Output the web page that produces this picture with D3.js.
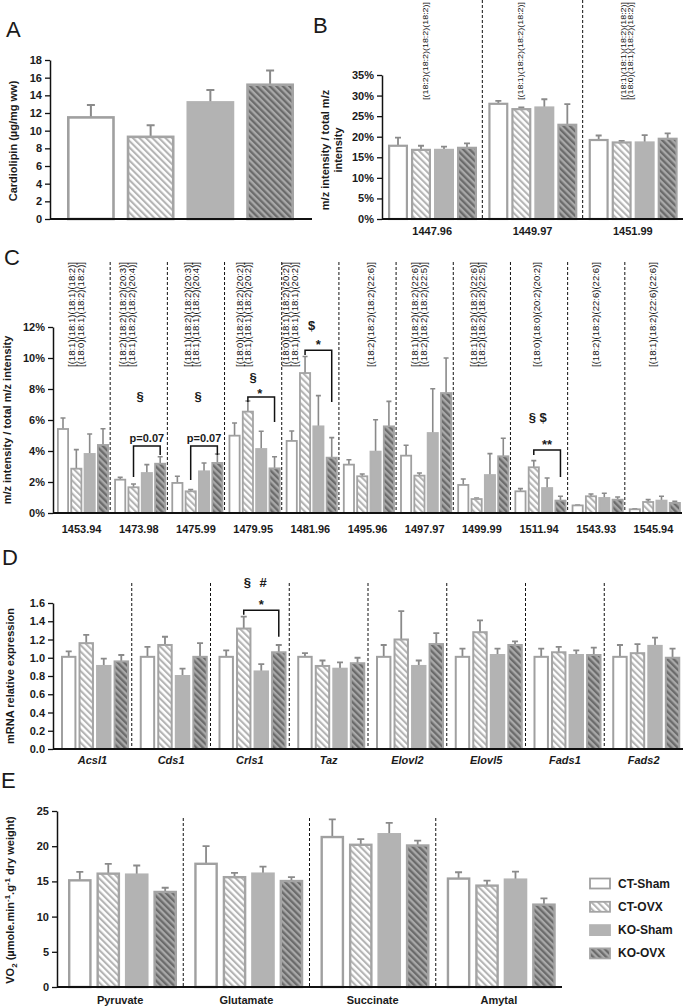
<!DOCTYPE html>
<html>
<head>
<meta charset="utf-8">
<script src="https://cdn.jsdelivr.net/npm/d3@7"></script>
<style>
  body { margin: 0; background: #fff; }
  svg text { font-family: "Liberation Sans", Arial, sans-serif; fill: #1a1a1a; }
</style>
</head>
<body>
<svg id="fig" width="685" height="1007"></svg>
<script>
// ---- data ----
const groups = ["CT-Sham", "CT-OVX", "KO-Sham", "KO-OVX"];

// A: cardiolipin content
const cardiolipin = [11.5, 9.3, 13.2, 15.2];
const cardiolipinErr = [1.4, 1.3, 1.4, 1.6];

// B: tetra-linoleoyl species
const bMasses = ["1447.96", "1449.97", "1451.99"];
const bSpecies = [
  ["[(18:2)(18:2)(18:2)(18:2)]"],
  ["[(18:1)(18:2)(18:2)(18:2)]"],
  ["[(18:1)(18:1)(18:2)(18:2)]", "[(18:0)(18:1)(18:2)(18:2)]"]
];
const bValues = [[17.8, 16.8, 16.8, 17.3], [28.0, 26.7, 27.1, 22.9], [19.2, 18.6, 18.6, 19.5]];
const bErrors = [[2.0, 1.0, 0.8, 1.1], [0.7, 0.4, 2.0, 5.0], [1.1, 0.4, 1.8, 1.3]];

// C: other species
const cMasses = ["1453.94", "1473.98", "1475.99", "1479.95", "1481.96", "1495.96",
                 "1497.97", "1499.99", "1511.94", "1543.93", "1545.94"];
const cSpecies = [
  ["[(18:1)(18:1)(18:1)(18:2)]", "[(18:0)(18:1)(18:2)(18:2)]"],
  ["[(18:2)(18:2)(18:2)(20:3)]", "[(18:1)(18:2)(18:2)(20:4)]"],
  ["[(18:1)(18:2)(18:2)(20:3)]", "[(18:1)(18:1)(18:2)(20:4)]"],
  ["[(18:0)(18:2)(18:2)(20:2)]", "[(18:1)(18:1)(18:2)(20:2)]"],
  ["[(18:0)(18:1)(18:2)(20:2)]", "[(18:1)(18:1)(18:1)(20:2)]"],
  ["[(18:2)(18:2)(18:2)(22:6)]"],
  ["[(18:1)(18:2)(18:2)(22:6)]", "[(18:2)(18:2)(18:2)(22:5)]"],
  ["[(18:1)(18:2)(18:2)(22:6)]", "[(18:2)(18:2)(18:2)(22:5)]"],
  ["[(18:0)(18:0)(20:2)(20:2)]"],
  ["[(18:2)(18:2)(22:6)(22:6)]"],
  ["[(18:1)(18:2)(22:6)(22:6)]"]
];
const cValues = [
  [5.42, 2.86, 3.81, 4.39], [2.15, 1.66, 2.58, 3.18], [1.94, 1.40, 2.69, 3.23],
  [4.99, 6.54, 4.13, 2.88], [4.65, 9.03, 5.59, 3.57], [3.12, 2.37, 3.96, 5.59],
  [3.70, 2.41, 5.16, 7.74], [1.81, 0.90, 2.45, 3.66], [1.40, 2.95, 1.61, 0.80],
  [0.49, 1.08, 0.97, 0.86], [0.24, 0.71, 0.80, 0.65]
];
const cErrors = [
  [0.71, 1.23, 1.29, 1.05], [0.15, 0.21, 0.54, 0.45], [0.43, 0.11, 0.54, 0.58],
  [0.82, 0.69, 1.14, 0.75], [0.64, 1.07, 1.98, 1.29], [0.32, 0.15, 2.06, 1.61],
  [0.67, 0.17, 2.86, 2.26], [0.38, 0.07, 1.38, 1.16], [0.17, 0.43, 0.65, 0.28],
  [0.03, 0.15, 0.30, 0.17], [0.03, 0.15, 0.28, 0.10]
];
// [mass, from bar, to bar, bracket level, left end, right end] (%)
const cBrackets = [
  ["1473.98", 1, 3, 4.32, 2.32, 3.74],
  ["1475.99", 1, 3, 4.32, 2.13, 3.74],
  ["1479.95", 1, 3, 7.48, 7.16, 5.87],
  ["1481.96", 1, 3, 10.5, 10.2, 7.16],
  ["1511.94", 1, 3, 4.06, 3.74, 2.32]
];
// [mass, text, bar position, baseline value]
const cMarks = [
  ["1473.98", "§", 1.5, 7.2], ["1473.98", "p=0.07", 2, 4.6],
  ["1475.99", "§", 1.55, 7.2], ["1475.99", "p=0.07", 2, 4.6],
  ["1479.95", "§", 1.4, 8.45], ["1479.95", "*", 1.9, 7.45],
  ["1481.96", "$", 1.5, 11.8], ["1481.96", "*", 2, 10.55],
  ["1511.94", "§ $", 1.3, 5.87], ["1511.94", "**", 2, 4.1]
];

// D: mRNA expression
const genes = ["Acsl1", "Cds1", "Crls1", "Taz", "Elovl2", "Elovl5", "Fads1", "Fads2"];
const dValues = [
  [1.01, 1.16, 0.91, 0.96], [1.01, 1.14, 0.80, 1.01], [1.01, 1.32, 0.85, 1.06],
  [1.01, 0.91, 0.88, 0.94], [1.01, 1.20, 0.91, 1.15], [1.01, 1.28, 1.03, 1.14],
  [1.01, 1.06, 1.03, 1.03], [1.01, 1.05, 1.13, 1.00]
];
const dErrors = [
  [0.06, 0.09, 0.08, 0.07], [0.11, 0.09, 0.08, 0.15], [0.07, 0.13, 0.08, 0.08],
  [0.04, 0.06, 0.07, 0.06], [0.13, 0.31, 0.06, 0.12], [0.09, 0.13, 0.07, 0.04],
  [0.09, 0.06, 0.05, 0.08], [0.13, 0.10, 0.09, 0.10]
];
const dBrackets = [["Crls1", 1, 3, 1.52, 1.47, 1.23]];
const dMarks = [["Crls1", "§", 1.2, 1.775], ["Crls1", "#", 2.1, 1.775], ["Crls1", "*", 2, 1.53]];

// E: respiration
const substrates = ["Pyruvate", "Glutamate", "Succinate", "Amytal"];
const eValues = [[15.15, 16.1, 15.96, 13.5], [17.5, 15.6, 16.1, 15.05], [21.3, 20.2, 21.7, 20.1], [15.4, 14.4, 15.25, 11.7]];
const eErrors = [[1.2, 1.4, 1.3, 0.6], [2.5, 0.6, 1.0, 0.55], [2.5, 0.8, 1.6, 0.7], [0.9, 0.7, 1.15, 0.9]];

// ---- styles ----
const FONT = '"Liberation Sans", Arial, sans-serif';
const NARROW = '"Liberation Sans Narrow", "Arial Narrow", "Liberation Sans", sans-serif';
const fills = ["#ffffff", "url(#hatchLight)", "#b3b3b3", "url(#hatchDark)"];
const strokes = ["#a0a0a0", "#a4a4a4", "#b3b3b3", "#a4a4a4"];
const errColor = "#8a8a8a";

const svg = d3.select("#fig");
const defs = svg.append("defs");

function hatch(id, bg, fg, w) {
  const p = defs.append("pattern").attr("id", id)
    .attr("patternUnits", "userSpaceOnUse")
    .attr("width", 4.6).attr("height", 4.6)
    .attr("patternTransform", "rotate(-45)");
  p.append("rect").attr("width", 4.6).attr("height", 4.6).attr("fill", bg);
  p.append("rect").attr("width", w).attr("height", 4.6).attr("fill", fg);
}
hatch("hatchLight", "#ffffff", "#b4b4b4", 2.1);
hatch("hatchDark", "#a9a9a9", "#6b6b6b", 2.3);

function drawPanel(p) {
  const g = svg.append("g");
  const y = d3.scaleLinear().domain([0, p.yMax]).range([p.yBottom, p.yTop]);
  const gx = d3.scaleBand().domain(p.cats).range([p.x0, p.x1]);
  const bx = d3.scaleBand().domain(groups).range(p.inner).paddingInner(p.padInner);
  const barPos = (c, pos) => gx(c) + bx(groups[0]) + bx.bandwidth() / 2 + pos * bx.step();

  // dashed separators
  if (p.sepTop != null) {
    g.selectAll(".sep").data(p.cats.slice(1)).join("line")
      .attr("x1", d => gx(d)).attr("x2", d => gx(d))
      .attr("y1", p.sepTop).attr("y2", p.yBottom)
      .attr("stroke", "#111").attr("stroke-width", 1)
      .attr("stroke-dasharray", "3,2");
  }

  const cells = p.cats.flatMap((c, i) => groups.map((s, j) => ({
    c, s, j, v: p.values[i][j], e: p.errors[i][j]
  })));

  // error bars (upper only)
  const eb = g.append("g").attr("stroke", errColor).attr("stroke-width", p.errW).attr("fill", "none");
  eb.selectAll("path").data(cells).join("path")
    .attr("d", d => {
      const cx = gx(d.c) + bx(d.s) + bx.bandwidth() / 2;
      return `M${cx},${y(d.v)}V${y(d.v + d.e)}M${cx - p.capW / 2},${y(d.v + d.e)}H${cx + p.capW / 2}`;
    });

  // bars
  g.selectAll(".bar").data(cells).join("rect")
    .attr("class", "bar")
    .attr("x", d => gx(d.c) + bx(d.s) + p.strokeW / 2)
    .attr("width", bx.bandwidth() - p.strokeW)
    .attr("y", d => y(d.v))
    .attr("height", d => y(0) - y(d.v))
    .attr("fill", d => fills[d.j])
    .attr("stroke", d => strokes[d.j])
    .attr("stroke-width", p.strokeW);

  // y axis
  const ya = g.append("g").attr("transform", `translate(${p.x0},0)`)
    .call(d3.axisLeft(y).tickValues(p.ticks).tickFormat(p.fmt).tickSize(5).tickSizeOuter(0).tickPadding(3));
  ya.attr("font-family", FONT).attr("font-size", 11).attr("font-weight", "bold");
  ya.select(".domain").attr("stroke", "#111").attr("stroke-width", 1.5);
  ya.selectAll(".tick line").attr("stroke", "#111").attr("stroke-width", 1.3);
  ya.selectAll(".tick text").attr("fill", "#1a1a1a");

  // x axis
  const xa = g.append("g").attr("transform", `translate(0,${p.yBottom})`)
    .call(d3.axisBottom(gx).tickSize(0).tickSizeOuter(0).tickPadding(p.labelPad));
  xa.attr("font-family", FONT).attr("font-size", 11).attr("font-weight", "bold");
  xa.select(".domain").attr("stroke", "#111").attr("stroke-width", 2)
    .attr("d", `M${p.x0},0H${p.x1}`);
  xa.selectAll(".tick text").attr("fill", "#1a1a1a")
    .attr("font-style", p.italic ? "italic" : null);

  // rotated species labels
  if (p.species) {
    p.cats.forEach((c, i) => {
      const lines = p.species[i];
      const cx = gx(c) + gx.bandwidth() / 2 + (p.nudge[c] || 0);
      lines.forEach((t, k) => {
        const lx = cx + (k - (lines.length - 1) / 2) * p.lineGap + p.spFont * 0.35;
        g.append("text")
          .attr("transform", `translate(${lx},${p.spBottom}) rotate(-90)`)
          .attr("font-family", NARROW)
          .attr("font-size", p.spFont)
          .attr("textLength", p.spLen)
          .attr("lengthAdjust", "spacingAndGlyphs")
          .style("fill", "#111")
          .text(t);
      });
    });
  }

  // significance brackets and marks
  (p.brackets || []).forEach(([c, a, b, lev, l, r]) => {
    g.append("path")
      .attr("d", `M${barPos(c, a)},${y(l)}V${y(lev)}H${barPos(c, b)}V${y(r)}`)
      .attr("fill", "none").attr("stroke", "#111").attr("stroke-width", 1.5);
  });
  (p.marks || []).forEach(([c, t, pos, v]) => {
    g.append("text")
      .attr("x", barPos(c, pos)).attr("y", y(v))
      .attr("text-anchor", "middle")
      .attr("font-weight", "bold")
      .attr("font-size", t.startsWith("p") ? 11 : 13)
      .text(t);
  });

  // y axis title
  const titleLines = [].concat(p.yTitle);
  titleLines.forEach((t, k) => {
    const tt = g.append("text")
      .attr("transform", `translate(${p.titleX + k * p.titleGap},${p.titleY}) rotate(-90)`)
      .attr("text-anchor", "middle")
      .attr("font-weight", "bold")
      .attr("font-size", 11);
    if (typeof t === "string") tt.text(t);
    else t(tt);
  });
}

// ---- panel letters ----
[["A", 6, 37], ["B", 313, 33], ["C", 4, 265], ["D", 2, 565], ["E", 1, 788]].forEach(([t, x, yy]) => {
  svg.append("text").attr("x", x).attr("y", yy)
    .attr("font-size", 22).attr("fill", "#222").text(t);
});

// ---- panels ----
drawPanel({
  cats: [""], values: [cardiolipin], errors: [cardiolipinErr],
  x0: 50, x1: 312, yTop: 60, yBottom: 219, yMax: 18,
  ticks: d3.range(0, 19, 2), fmt: d3.format("d"),
  inner: [17, 244], padInner: 0.2, strokeW: 2.6, capW: 8, errW: 2, labelPad: 8,
  yTitle: "Cardiolipin (µg/mg ww)", titleX: 17, titleY: 141, titleGap: 0
});

drawPanel({
  cats: bMasses, values: bValues, errors: bErrors,
  x0: 382, x1: 683, yTop: 75, yBottom: 219, yMax: 35,
  ticks: d3.range(0, 36, 5), fmt: d => d + "%",
  inner: [6, 95], padInner: 0.13, strokeW: 2.2, capW: 6, errW: 1.8, labelPad: 8,
  sepTop: 0,
  species: bSpecies, spBottom: 100, spLen: 98, spFont: 8, lineGap: 7.5,
  nudge: { "1447.96": -7, "1449.97": -12, "1451.99": -6 },
  yTitle: ["m/z intensity / total m/z", "intensity"], titleX: 329, titleY: 150, titleGap: 13
});

drawPanel({
  cats: cMasses, values: cValues, errors: cErrors,
  x0: 53, x1: 682, yTop: 327, yBottom: 513, yMax: 12,
  ticks: d3.range(0, 13, 2), fmt: d => d + "%",
  inner: [4, 56], padInner: 0.1, strokeW: 1.8, capW: 5, errW: 1.6, labelPad: 12,
  sepTop: 262,
  species: cSpecies, spBottom: 367, spLen: 105, spFont: 8.5, lineGap: 8.5,
  nudge: { "1453.94": -5, "1473.98": -11, "1475.99": -4, "1479.95": -9, "1481.96": -20,
           "1495.96": 4, "1497.97": -5, "1499.99": -4, "1511.94": -2 },
  brackets: cBrackets, marks: cMarks,
  yTitle: "m/z intensity / total m/z intensity", titleX: 11, titleY: 420, titleGap: 0
});

drawPanel({
  cats: genes, values: dValues, errors: dErrors,
  x0: 53, x1: 683, yTop: 603, yBottom: 749, yMax: 1.6,
  ticks: d3.range(0, 1.61, 0.2), fmt: d3.format(".1f"),
  inner: [8, 76], padInner: 0.12, strokeW: 2, capW: 6, errW: 1.8, labelPad: 7,
  sepTop: 583, italic: true,
  brackets: dBrackets, marks: dMarks,
  yTitle: "mRNA relative expression", titleX: 14, titleY: 676, titleGap: 0
});

drawPanel({
  cats: substrates, values: eValues, errors: eErrors,
  x0: 57, x1: 562, yTop: 811, yBottom: 987, yMax: 25,
  ticks: d3.range(0, 26, 5), fmt: d3.format("d"),
  inner: [11, 120], padInner: 0.17, strokeW: 2.4, capW: 7, errW: 1.8, labelPad: 9,
  sepTop: 818,
  yTitle: [t => {
    t.append("tspan").text("VO");
    t.append("tspan").attr("font-size", 8).attr("dy", 3).text("2");
    t.append("tspan").attr("dy", -3).text(" (µmole.min");
    t.append("tspan").attr("font-size", 8).attr("dy", -4).text("-1");
    t.append("tspan").attr("dy", 4).text(".g");
    t.append("tspan").attr("font-size", 8).attr("dy", -4).text("-1");
    t.append("tspan").attr("dy", 4).text(" dry weight)");
  }],
  titleX: 14, titleY: 900, titleGap: 0
});

// ---- legend ----
const legend = svg.append("g").attr("transform", "translate(589,878)");
groups.forEach((s, j) => {
  const row = legend.append("g").attr("transform", `translate(0,${j * 23.3})`);
  row.append("rect").attr("x", 1).attr("y", 0.5).attr("width", 20).attr("height", 10)
    .attr("fill", fills[j]).attr("stroke", strokes[j]).attr("stroke-width", 1.8);
  row.append("text").attr("x", 29).attr("y", 9.5)
    .attr("font-size", 12).attr("font-weight", "bold").text(s);
});
</script>
</body>
</html>
